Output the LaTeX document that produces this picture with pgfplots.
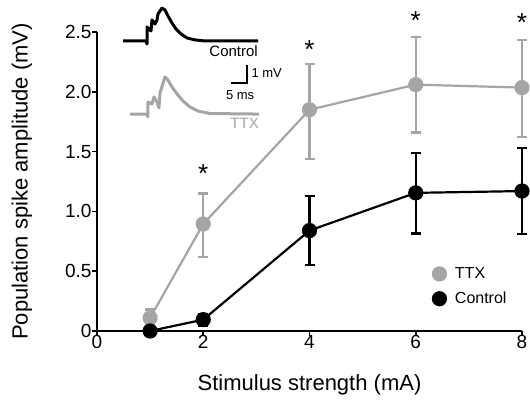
\documentclass[border=0pt]{standalone}
\usepackage{pgfplots}
\pgfplotsset{compat=1.18}
\usepackage{fontspec}
\setmainfont{Liberation Sans}
\definecolor{ttxgray}{RGB}{165,165,165}

\begin{document}
\begin{tikzpicture}
\useasboundingbox (-97pt,-75pt) rectangle (433pt,331pt);
\begin{axis}[
  scale only axis,
  width=425pt, height=299pt,
  at={(0pt,0pt)}, anchor=south west,
  xmin=0, xmax=8, ymin=0, ymax=2.5,
  axis lines=left,
  axis line style={-, line width=1.8pt},
  clip=false,
  xtick={0,2,4,6,8},
  ytick={0,0.5,1,1.5,2,2.5},
  yticklabels={0,0.5,1.0,1.5,2.0,2.5},
  tick align=outside,
  major tick length=5pt,
  tick style={line width=1.6pt, black},
  /pgf/number format/assume math mode=true,
  tick label style={font=\fontsize{19}{19}\selectfont},
  xticklabel style={yshift=4pt},
  yticklabel style={xshift=3pt},
  xlabel={Stimulus strength (mA)},
  ylabel={Population spike amplitude (mV)},
  every axis x label/.style={at={(axis description cs:0.5,0)}, yshift=-54pt, anchor=center,
    font=\fontsize{22}{24}\selectfont},
  every axis y label/.style={at={(axis description cs:0,0.5)}, xshift=-75pt, rotate=90, anchor=center,
    font=\fontsize{22}{24}\selectfont},
  legend style={draw=none, fill=none, inner sep=0pt, at={(axis cs:6.32,0.548)}, anchor=north west,
    font=\fontsize{16}{16}\selectfont, row sep=8pt, column sep=7pt},
  legend cell align=left,
  legend image code/.code={\draw[#1] plot coordinates {(6.5pt,0pt)};},
]
% TTX
\addplot[ttxgray, line width=2.2pt, mark=*, mark size=6.5pt,
  mark options={fill=ttxgray, draw=ttxgray},
  error bars/.cd, y dir=both, y explicit,
  error bar style={line width=2.2pt, ttxgray},
  error mark options={rotate=90, mark size=5pt, line width=2.2pt, ttxgray}]
coordinates {
  (1,0.11)  += (0,0.07)  -= (0,0.05)
  (2,0.895) += (0,0.255) -= (0,0.275)
  (4,1.85)  += (0,0.38)  -= (0,0.41)
  (6,2.06)  += (0,0.395) -= (0,0.40)
  (8,2.035) += (0,0.395) -= (0,0.41)
};
% Control
\addplot[black, line width=2.2pt, mark=*, mark size=6.5pt,
  error bars/.cd, y dir=both, y explicit,
  error bar style={line width=2.2pt, black},
  error mark options={rotate=90, mark size=5pt, line width=2.2pt, black}]
coordinates {
  (1,0.0)   += (0,0.02) -= (0,0.02)
  (2,0.095) += (0,0.05) -= (0,0.05)
  (4,0.84)  += (0,0.29) -= (0,0.29)
  (6,1.155) += (0,0.33) -= (0,0.34)
  (8,1.17)  += (0,0.36) -= (0,0.36)
};
\addlegendimage{only marks, mark=*, mark size=6.5pt, ttxgray, mark options={fill=ttxgray, draw=ttxgray}}
\addlegendentry{TTX}
\addlegendimage{only marks, mark=*, mark size=6.5pt, black}
\addlegendentry{Control}
% significance marks
\node[font=\fontsize{26}{26}\selectfont, anchor=base, inner sep=0pt] at (axis cs:2,1.24) {*};
\node[font=\fontsize{26}{26}\selectfont, anchor=base, inner sep=0pt] at (axis cs:4,2.28) {*};
\node[font=\fontsize{26}{26}\selectfont, anchor=base, inner sep=0pt] at (axis cs:6,2.52) {*};
\node[font=\fontsize{26}{26}\selectfont, anchor=base, inner sep=0pt] at (axis cs:8,2.50) {*};
\end{axis}

% inset: example field potential traces (time in ms, voltage in mV)
\begin{axis}[
  scale only axis,
  width=144pt, height=126pt,
  at={(26pt,200pt)}, anchor=south west,
  xmin=0, xmax=45, ymin=-5, ymax=2,
  hide axis, clip=false,
]
\addplot[black, line width=3pt, line join=round] coordinates {
  (0,0) (7.19,0) (7.5,-0.17) (7.5,0.78) (8.75,0.56) (9.06,1.17) (10.0,0.94)
  (10.63,1.17) (10.94,1.5) (12.19,1.83) (13.13,1.72) (14.06,1.39) (15.31,1.0)
  (16.56,0.67) (18.13,0.39) (20.0,0.17) (22.5,0.06) (25.63,0) (42.19,0)
};
\addplot[ttxgray, line width=3pt, line join=round] coordinates {
  (2.19,-4.06) (7.5,-4.06) (7.81,-4.22) (7.81,-3.39) (9.06,-3.5) (9.69,-3.11)
  (10.63,-3.39) (11.25,-3.72) (11.56,-2.89) (13.13,-2.0) (14.06,-2.17)
  (15.31,-2.56) (16.88,-2.94) (18.75,-3.33) (20.94,-3.67) (23.44,-3.89)
  (27.19,-4.03) (42.5,-4.06)
};
% scale bar: 5 ms x 1 mV
\addplot[black, line width=1.3pt] coordinates {(33.75,-2.33) (38.75,-2.33) (38.75,-1.33)};
\node[font=\fontsize{15}{15}\selectfont, anchor=east, inner sep=0pt] at (axis cs:42.2,-0.56) {Control};
\node[font=\fontsize{13}{13}\selectfont, anchor=west, inner sep=0pt] at (axis cs:40.1,-1.78) {1 mV};
\node[font=\fontsize{13}{13}\selectfont, anchor=center, inner sep=0pt] at (axis cs:36.6,-3.0) {5 ms};
\node[font=\fontsize{15}{15}\selectfont, anchor=east, inner sep=0pt, text=ttxgray] at (axis cs:42.5,-4.6) {TTX};
\end{axis}
\end{tikzpicture}
\end{document}
